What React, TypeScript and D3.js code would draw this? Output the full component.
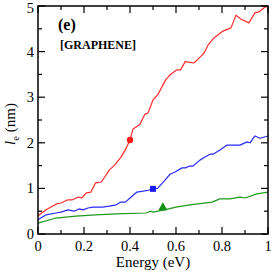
import React from 'react';
import * as d3 from 'd3';

// red curve
const redX = [0, 0.035, 0.08, 0.1, 0.13, 0.15, 0.175, 0.19, 0.21, 0.23, 0.25, 0.275, 0.29, 0.31, 0.335, 0.36, 0.38, 0.4, 0.413, 0.443, 0.465, 0.478, 0.5, 0.52, 0.555, 0.574, 0.604, 0.62, 0.64, 0.678, 0.709, 0.722, 0.739, 0.765, 0.804, 0.839, 0.861, 0.883, 0.917, 0.943, 0.96, 0.983, 1.0];
const redY = [0.4, 0.53, 0.66, 0.68, 0.75, 0.75, 0.81, 0.79, 0.9, 0.92, 1.12, 1.14, 1.25, 1.4, 1.52, 1.68, 1.85, 2.06, 2.3, 2.4, 2.63, 2.65, 2.94, 3.05, 3.38, 3.49, 3.6, 3.6, 3.78, 3.75, 3.9, 3.97, 4.14, 4.3, 4.45, 4.52, 4.8, 4.71, 4.63, 4.85, 4.87, 4.96, 5.0];

// blue curve
const blueX = [0, 0.035, 0.078, 0.1, 0.13, 0.157, 0.178, 0.196, 0.217, 0.24, 0.28, 0.31, 0.34, 0.36, 0.38, 0.4, 0.43, 0.457, 0.48, 0.5, 0.52, 0.552, 0.574, 0.596, 0.626, 0.64, 0.66, 0.674, 0.704, 0.726, 0.748, 0.761, 0.791, 0.822, 0.848, 0.878, 0.909, 0.922, 0.943, 0.965, 1.0];
const blueY = [0.31, 0.42, 0.46, 0.48, 0.53, 0.5, 0.55, 0.53, 0.57, 0.59, 0.59, 0.61, 0.64, 0.7, 0.7, 0.79, 0.92, 0.94, 0.96, 0.99, 1.0, 1.18, 1.31, 1.36, 1.45, 1.45, 1.49, 1.49, 1.62, 1.69, 1.75, 1.75, 1.84, 1.95, 1.95, 1.95, 2.02, 2.0, 2.15, 2.1, 2.15];

// green curve
const greenX = [0, 0.078, 0.165, 0.25, 0.34, 0.47, 0.49, 0.5, 0.55, 0.6, 0.66, 0.757, 0.79, 0.835, 0.878, 0.9, 0.952, 1.0];
const greenY = [0.24, 0.35, 0.39, 0.42, 0.44, 0.46, 0.5, 0.48, 0.53, 0.59, 0.64, 0.7, 0.77, 0.77, 0.81, 0.79, 0.88, 0.92];

// marked points
const markRed = [0.4, 2.06];
const markBlue = [0.5, 0.99];
const markGreen = [0.543, 0.57];

const xTicks = [0, 0.2, 0.4, 0.6, 0.8, 1];
const xTickLabels = ['0', '0.2', '0.4', '0.6', '0.8', '1'];
const yTicks = [0, 1, 2, 3, 4, 5];

const W = 273, H = 273;
const margin = { top: 6, right: 5, bottom: 39, left: 38 };
const FONT = 'Liberation Serif, Tinos, Times New Roman, DejaVu Serif, serif';

const App = () => {
  const x = d3.scaleLinear().domain([0, 1]).range([margin.left, W - margin.right]);
  const y = d3.scaleLinear().domain([0, 5]).range([H - margin.bottom, margin.top]);
  const x0 = x(0), x1 = x(1), y0 = y(0), y1 = y(5);

  const line = d3.line<number[]>().x(d => x(d[0])).y(d => y(d[1]));
  const zip = (a: number[], b: number[]) => a.map((v, i) => [v, b[i]]);

  const xMinor = d3.range(0.1, 1, 0.2);
  const yMinor = d3.range(0.5, 5, 1);
  const major = 7, minor = 4;

  const tri = d3.symbol().type(d3.symbolTriangle).size(36)();
  const txt = { fontFamily: FONT };

  return (
    <svg width={W} height={H} style={{ position: 'absolute', left: 0, top: 0, background: '#fff' }}>
      {/* curves */}
      <g fill="none" strokeWidth={1.2} strokeLinejoin="round">
        <path d={line(zip(greenX, greenY)) || ''} stroke="#1f9a1f" />
        <path d={line(zip(blueX, blueY)) || ''} stroke="#2a2aff" />
        <path d={line(zip(redX, redY)) || ''} stroke="#ff2a2a" />
      </g>
      <circle cx={x(markRed[0])} cy={y(markRed[1])} r={3.2} fill="#ff1a1a" />
      <rect x={x(markBlue[0]) - 3} y={y(markBlue[1]) - 3} width={6} height={6} fill="#1a1aff" />
      <path d={tri || ''} transform={`translate(${x(markGreen[0])},${y(markGreen[1]) - 0.5})`} fill="#119011" />

      {/* frame */}
      <rect x={x0} y={y1} width={x1 - x0} height={y0 - y1} fill="none" stroke="#000" strokeWidth={1.5} />

      {/* ticks */}
      <g stroke="#000" strokeWidth={1.2}>
        {xTicks.map(t => (
          <g key={'xt' + t}>
            <line x1={x(t)} x2={x(t)} y1={y0} y2={y0 - major} />
            <line x1={x(t)} x2={x(t)} y1={y1} y2={y1 + major} />
          </g>
        ))}
        {xMinor.map(t => (
          <g key={'xm' + t}>
            <line x1={x(t)} x2={x(t)} y1={y0} y2={y0 - minor} />
            <line x1={x(t)} x2={x(t)} y1={y1} y2={y1 + minor} />
          </g>
        ))}
        {yTicks.map(t => (
          <g key={'yt' + t}>
            <line x1={x0} x2={x0 + major} y1={y(t)} y2={y(t)} />
            <line x1={x1} x2={x1 - major} y1={y(t)} y2={y(t)} />
          </g>
        ))}
        {yMinor.map(t => (
          <g key={'ym' + t}>
            <line x1={x0} x2={x0 + minor} y1={y(t)} y2={y(t)} />
            <line x1={x1} x2={x1 - minor} y1={y(t)} y2={y(t)} />
          </g>
        ))}
      </g>

      {/* tick labels */}
      <g style={txt} fontSize={14.5} fill="#000">
        {xTicks.map((t, i) => (
          <text key={'xl' + t} x={x(t)} y={y0 + 17} textAnchor="middle">{xTickLabels[i]}</text>
        ))}
        {yTicks.map(t => (
          <text key={'yl' + t} x={x0 - 4} y={t === 5 ? y(t) + 7 : y(t) + 5} textAnchor="end">{t}</text>
        ))}
      </g>

      {/* axis titles */}
      <text x={(x0 + x1) / 2} y={267} textAnchor="middle" style={txt} fontSize={15}>Energy (eV)</text>
      <text transform={`translate(15,${(y0 + y1) / 2 + 4}) rotate(-90)`} textAnchor="middle" style={txt} fontSize={15}>
        <tspan fontStyle="italic">l</tspan>
        <tspan fontSize={10.5} dy={4}>e</tspan>
        <tspan dy={-4}> (nm)</tspan>
      </text>

      {/* annotations */}
      <text x={58} y={30} style={txt} fontSize={16} fontWeight="bold">(e)</text>
      <text x={60} y={49} style={txt} fontSize={12} fontWeight="bold">[GRAPHENE]</text>
    </svg>
  );
};

export default App;
